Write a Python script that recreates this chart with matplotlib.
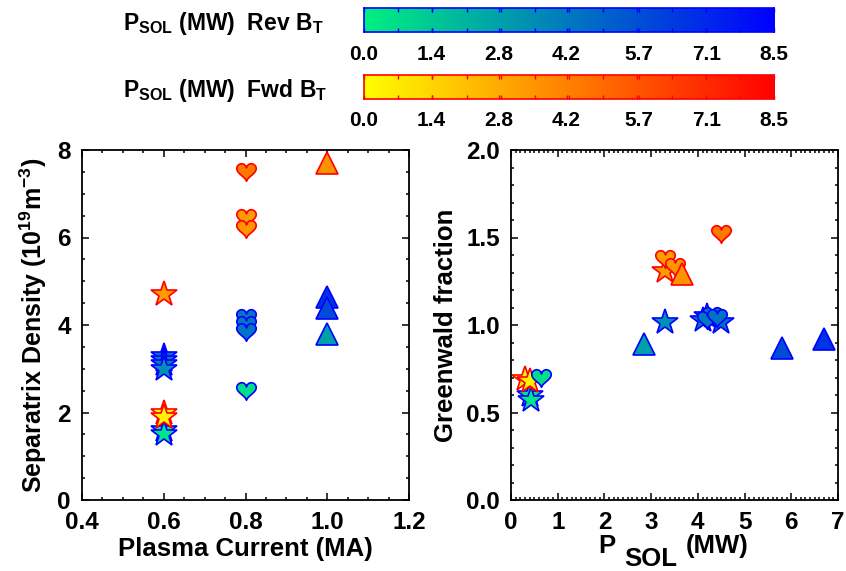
import numpy as np
import matplotlib
matplotlib.use("Agg")
import matplotlib.pyplot as plt
from matplotlib.path import Path
from matplotlib.colors import LinearSegmentedColormap, Normalize
from matplotlib.ticker import MultipleLocator, FixedLocator

plt.rcParams['font.family'] = ['Liberation Sans', 'DejaVu Sans']
plt.rcParams['font.weight'] = 'bold'
plt.rcParams['mathtext.fontset'] = 'custom'
plt.rcParams['mathtext.rm'] = 'Liberation Sans:bold'
plt.rcParams['mathtext.bf'] = 'Liberation Sans:bold'
plt.rcParams['mathtext.default'] = 'bf'

# ---- data: (plasma current MA, separatrix density 1e19, P_SOL MW, Greenwald fraction)
rev_star_ip = [0.6, 0.6, 0.6, 0.6, 0.6, 0.6]
rev_star_ne = [3.3, 3.2, 3.1, 3.0, 1.6, 1.5]
rev_star_psol = [4.5, 4.2, 4.1, 3.3, 0.4, 0.42]
rev_star_fg = [1.02, 1.05, 1.03, 1.02, 0.60, 0.57]

fwd_star_ip = [0.6, 0.6, 0.6]
fwd_star_ne = [4.7, 2.0, 1.9]
fwd_star_psol = [3.3, 0.3, 0.4]
fwd_star_fg = [1.31, 0.69, 0.68]

rev_heart_ip = [0.8, 0.8, 0.8, 0.8]
rev_heart_ne = [4.15, 4.0, 3.85, 2.5]
rev_heart_psol = [4.3, 4.2, 4.4, 0.65]
rev_heart_fg = [1.05, 1.03, 1.04, 0.70]

fwd_heart_ip = [0.8, 0.8, 0.8]
fwd_heart_ne = [7.5, 6.45, 6.2]
fwd_heart_psol = [4.5, 3.3, 3.5]
fwd_heart_fg = [1.52, 1.38, 1.33]

rev_tri_ip = [1.0, 1.0, 1.0]
rev_tri_ne = [4.65, 4.4, 3.8]
rev_tri_psol = [6.7, 5.8, 2.85]
rev_tri_fg = [0.92, 0.87, 0.89]

fwd_tri_ip = [1.0]
fwd_tri_ne = [7.7]
fwd_tri_psol = [3.65]
fwd_tri_fg = [1.29]

cbar_ticks = [0.0, 1.4, 2.8, 4.2, 5.7, 7.1, 8.5]
psol_max = 8.5

# colour tables
rev_cmap = LinearSegmentedColormap.from_list('rev', ['#00f080', '#0000ff'])
fwd_cmap = LinearSegmentedColormap.from_list('fwd', ['#ffff00', '#ff0000'])
norm = Normalize(0, psol_max)

# heart marker
t = np.linspace(0, 2 * np.pi, 80)
hx = 16 * np.sin(t) ** 3
hy = 13 * np.cos(t) - 5 * np.cos(2 * t) - 2 * np.cos(3 * t) - np.cos(4 * t) + 2.5
heart = Path(np.column_stack([hx, hy]), closed=True)

W, H = 846, 571
fig = plt.figure(figsize=(W / 100, H / 100), dpi=100)


def px_axes(x0, y0, x1, y1):
    return fig.add_axes([x0 / W, 1 - y1 / H, (x1 - x0) / W, (y1 - y0) / H])


ax1 = px_axes(82, 150, 409, 500)
ax2 = px_axes(511, 150, 838, 500)

groups = [
    ('*', 19, rev_cmap, 'blue', rev_star_ip, rev_star_ne, rev_star_psol, rev_star_fg),
    ('*', 19, fwd_cmap, 'red', fwd_star_ip, fwd_star_ne, fwd_star_psol, fwd_star_fg),
    (heart, 14, rev_cmap, 'blue', rev_heart_ip, rev_heart_ne, rev_heart_psol, rev_heart_fg),
    (heart, 14, fwd_cmap, 'red', fwd_heart_ip, fwd_heart_ne, fwd_heart_psol, fwd_heart_fg),
    ('^', 16, rev_cmap, 'blue', rev_tri_ip, rev_tri_ne, rev_tri_psol, rev_tri_fg),
    ('^', 16, fwd_cmap, 'red', fwd_tri_ip, fwd_tri_ne, fwd_tri_psol, fwd_tri_fg),
]

for mk, ms, cmap, ec, ip, ne, psol, fg in groups:
    for i in range(len(ip)):
        fc = cmap(norm(psol[i]))
        ax1.plot(ip[i], ne[i], marker=mk, ms=ms, mfc=fc, mec=ec, mew=1.2, ls='none')
        ax2.plot(psol[i], fg[i], marker=mk, ms=ms, mfc=fc, mec=ec, mew=1.2, ls='none')

ax1.set_xlim(0.4, 1.2)
ax1.set_ylim(0, 8)
ax1.xaxis.set_major_locator(MultipleLocator(0.2))
ax1.xaxis.set_minor_locator(MultipleLocator(0.05))
ax1.yaxis.set_major_locator(MultipleLocator(2))
ax1.yaxis.set_minor_locator(MultipleLocator(0.5))
ax1.xaxis.set_major_formatter(lambda v, p: f'{v:.1f}')
ax1.set_xlabel('Plasma Current (MA)', fontsize=18.5, fontweight='bold', labelpad=2)
ax1.set_ylabel(r'Separatrix Density (10$^{19}$m$^{-3}$)', fontsize=18,
               fontweight='bold', labelpad=6)

ax2.set_xlim(0, 7)
ax2.set_ylim(0, 2)
ax2.xaxis.set_major_locator(MultipleLocator(1))
ax2.xaxis.set_minor_locator(MultipleLocator(0.1))
ax2.yaxis.set_major_locator(MultipleLocator(0.5))
ax2.yaxis.set_minor_locator(MultipleLocator(0.1))
ax2.yaxis.set_major_formatter(lambda v, p: f'{v:.1f}')
ax2.set_ylabel('Greenwald fraction', fontsize=18.5, fontweight='bold', labelpad=6)

for ax in (ax1, ax2):
    for s in ax.spines.values():
        s.set_linewidth(1.3)
    ax.tick_params(which='both', direction='in', top=True, right=True, width=1.1,
                   labelsize=17.5, pad=8)
    ax.tick_params(which='major', length=5)
    ax.tick_params(which='minor', length=2.5)
    for lab in ax.get_xticklabels() + ax.get_yticklabels():
        lab.set_fontweight('bold')

# IDL-style x title for P_SOL
fig.text(598 / W, 1 - 553 / H, 'P', fontsize=18.5, fontweight='bold', va='baseline')
fig.text(624 / W, 1 - 566 / H, 'SOL', fontsize=18.5, fontweight='bold', va='baseline')
fig.text(686 / W, 1 - 553 / H, '(MW)', fontsize=18.5, fontweight='bold', va='baseline')

# colour bars
bars = [(rev_cmap, 'blue', 8, 32, 30, r'P$_{SOL}$ (MW)  Rev B$_T$'),
        (fwd_cmap, 'red', 75, 99, 97, r'P$_{SOL}$ (MW)  Fwd B$_T$')]
grad = np.linspace(0, psol_max, 256).reshape(1, -1)
for cmap, ec, y0, y1, ty, title in bars:
    cax = px_axes(364, y0, 774, y1)
    cax.imshow(grad, cmap=cmap, norm=norm, aspect='auto',
               extent=[0, psol_max, 0, 1], interpolation='bilinear')
    cax.set_xlim(0, psol_max)
    cax.set_ylim(0, 1)
    cax.set_yticks([])
    cax.xaxis.set_major_locator(FixedLocator(cbar_ticks))
    cax.xaxis.set_minor_locator(FixedLocator(np.linspace(0, psol_max, 13)))
    cax.set_xticklabels([f'{v:.1f}' for v in cbar_ticks], fontsize=15, fontweight='bold')
    cax.tick_params(which='both', direction='in', top=True, bottom=True, length=3,
                    color=ec, width=1, pad=9)
    for s in cax.spines.values():
        s.set_edgecolor(ec)
        s.set_linewidth(1.2)
    fig.text(123 / W, 1 - ty / H, title, fontsize=16.5, fontweight='bold', va='baseline')

fig.savefig('out.png', dpi=100)
